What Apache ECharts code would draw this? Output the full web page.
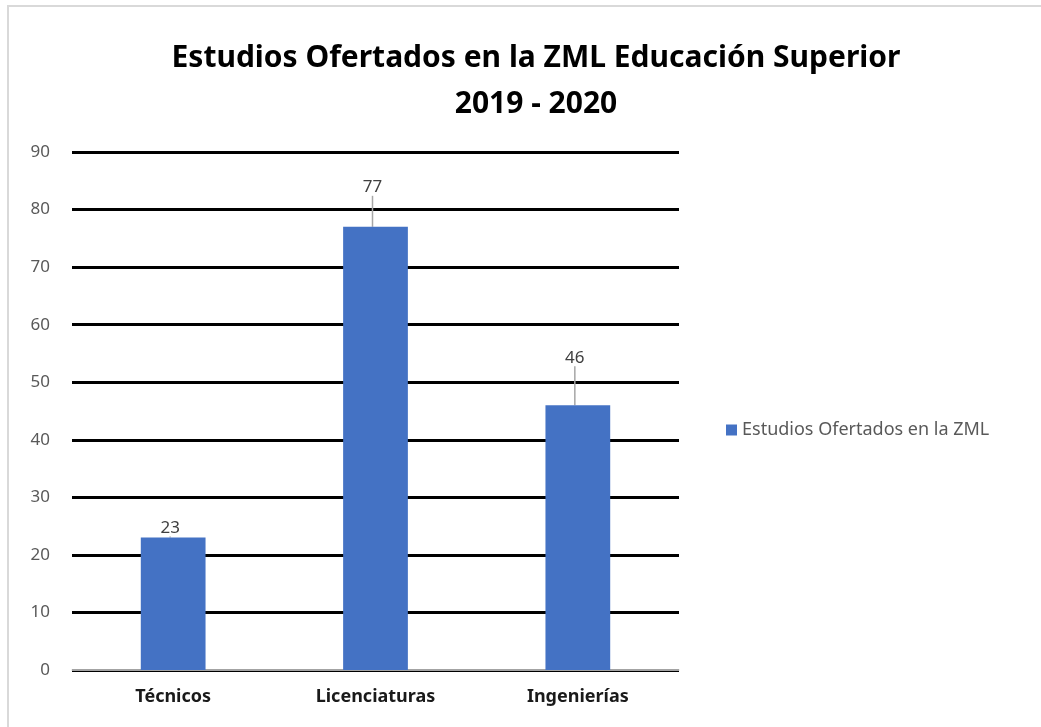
<!DOCTYPE html>
<html><head><meta charset="utf-8">
<script src="https://cdn.jsdelivr.net/npm/echarts@6/dist/echarts.min.js"></script>
<style>html,body{margin:0;padding:0;background:#fff}#c{width:1041px;height:727px}</style>
</head><body><div id="c"></div>
<script>
const categories = ['Técnicos', 'Licenciaturas', 'Ingenierías'];
const values = [23, 77, 46];
const seriesName = 'Estudios Ofertados en la ZML';
const labelLift = [0, 30, 38];

const chart = echarts.init(document.getElementById('c'));
chart.setOption({
  backgroundColor: '#fff',
  animation: false,
  graphic: [{type:'rect', shape:{x:8, y:6, width:1060, height:760}, style:{fill:'none', stroke:'#d9d9d9', lineWidth:2}}],
  title: {
    text: 'Estudios Ofertados en la ZML Educación Superior\n2019 - 2020',
    left: 531, top: 30, textAlign: 'center',
    textStyle: {fontFamily: 'Noto Sans', fontWeight: 'bold', fontSize: 30, color: '#000', lineHeight: 46}
  },
  legend: {
    data: [seriesName], orient: 'vertical', left: 721, top: 416,
    itemWidth: 11, itemHeight: 11, itemGap: 6, icon: 'rect',
    textStyle: {fontFamily: 'Noto Sans', fontSize: 18, color: '#595959'}
  },
  grid: {left: 72, right: 362, top: 152, bottom: 57},
  xAxis: {
    type: 'category', data: categories,
    axisLine: {lineStyle: {color: '#d9d9d9', width: 1.5}}, axisTick: {show: false},
    axisLabel: {fontFamily: 'Noto Sans', fontWeight: 'bold', fontSize: 18, color: '#1a1a1a', margin: 18}
  },
  yAxis: {
    type: 'value', min: 0, max: 90, interval: 10,
    axisLine: {show: false}, axisTick: {show: false},
    axisLabel: {fontFamily: 'Noto Sans', fontSize: 17, color: '#595959', margin: 22},
    splitLine: {lineStyle: {color: '#000', width: 3}}
  },
  series: [{
    name: seriesName, type: 'bar', data: values, barWidth: '32%',
    itemStyle: {color: '#4472c4'},
    label: {show: true, position: 'top', distance: 1, fontFamily: 'Noto Sans', fontSize: 17, color: '#404040'},
    labelLayout: function (p) { return {dy: -labelLift[p.dataIndex], dx: -3}; },
    labelLine: {show: true, lineStyle: {color: '#a6a6a6', width: 1.5}},
    z: 3
  }]
});
</script></body></html>
